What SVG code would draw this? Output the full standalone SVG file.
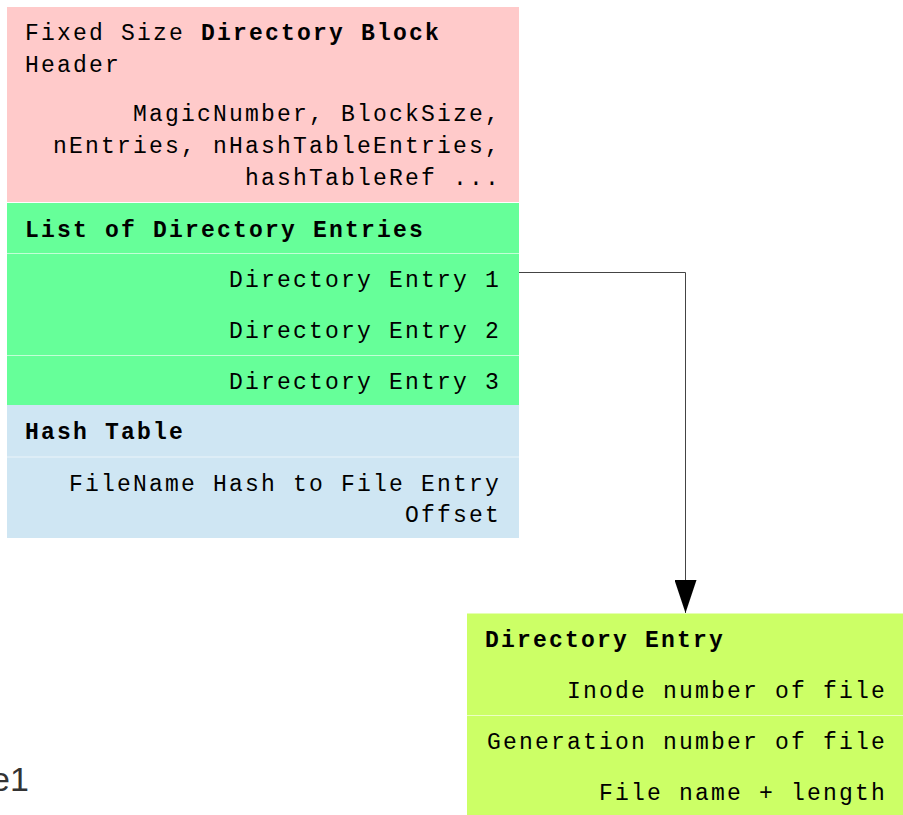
<svg xmlns="http://www.w3.org/2000/svg" width="903" height="815" viewBox="0 0 903 815">
  <defs>
    <style>
      .t { font-family: "Liberation Mono", "Courier New", monospace; font-size: 23px; letter-spacing: 2.2px; fill: #000; }
      .b { font-weight: bold; }
      .r { text-anchor: end; }
      .sep { stroke: #ffffff; stroke-opacity: 0.6; stroke-width: 1; }
      .conn { fill: none; stroke: #444444; stroke-width: 1; }
    </style>
    <marker id="arrow" viewBox="0 0 33 22" refX="33" refY="11" markerWidth="33" markerHeight="22" markerUnits="userSpaceOnUse" orient="auto">
      <path d="M0,0 L33,11 L0,22 Z" fill="#000"/>
    </marker>
  </defs>
  <rect width="903" height="815" fill="#ffffff"/>

  <g id="header">
    <rect x="7" y="7" width="512" height="195" fill="#ffcaca"/>
    <text class="t" x="25" y="39.5">Fixed Size <tspan class="b">Directory Block</tspan></text>
    <text class="t" x="25" y="71.5">Header</text>
    <text class="t r" x="501" y="120.5">MagicNumber, BlockSize,</text>
    <text class="t r" x="501" y="152.5">nEntries, nHashTableEntries,</text>
    <text class="t r" x="501" y="184.5">hashTableRef ...</text>
  </g>

  <g id="entries">
    <rect x="7" y="203" width="512" height="202" fill="#66ff99"/>
    <line class="sep" x1="7" y1="253.5" x2="519" y2="253.5"/>
    <line class="sep" x1="7" y1="355.5" x2="519" y2="355.5"/>
    <text class="t b" x="25" y="236.5">List of Directory Entries</text>
    <text class="t r" x="501" y="287">Directory Entry 1</text>
    <text class="t r" x="501" y="338">Directory Entry 2</text>
    <text class="t r" x="501" y="388.5">Directory Entry 3</text>
  </g>

  <g id="hashtable">
    <rect x="7" y="405" width="512" height="133" fill="#cfe6f3"/>
    <line class="sep" x1="7" y1="457" x2="519" y2="457"/>
    <text class="t b" x="25" y="439">Hash Table</text>
    <text class="t r" x="501" y="490.5">FileName Hash to File Entry</text>
    <text class="t r" x="501" y="521.5">Offset</text>
  </g>

  <g id="direntry">
    <rect x="467" y="613.5" width="436" height="205" fill="#ccff66"/>
    <line class="sep" x1="467" y1="715.5" x2="903" y2="715.5"/>
    <text class="t b" x="485" y="646.5">Directory Entry</text>
    <text class="t r" x="887" y="697.5">Inode number of file</text>
    <text class="t r" x="887" y="748.5">Generation number of file</text>
    <text class="t r" x="887" y="799.5">File name + length</text>
  </g>

  <g id="connectors">
    <path class="conn" d="M519,272.5 H685.5 V613" marker-end="url(#arrow)"/>
  </g>

  <g id="caption">
    <text x="-9" y="791" font-family="Liberation Sans, Arial, sans-serif" font-size="34" fill="#333333">e1</text>
  </g>
</svg>
